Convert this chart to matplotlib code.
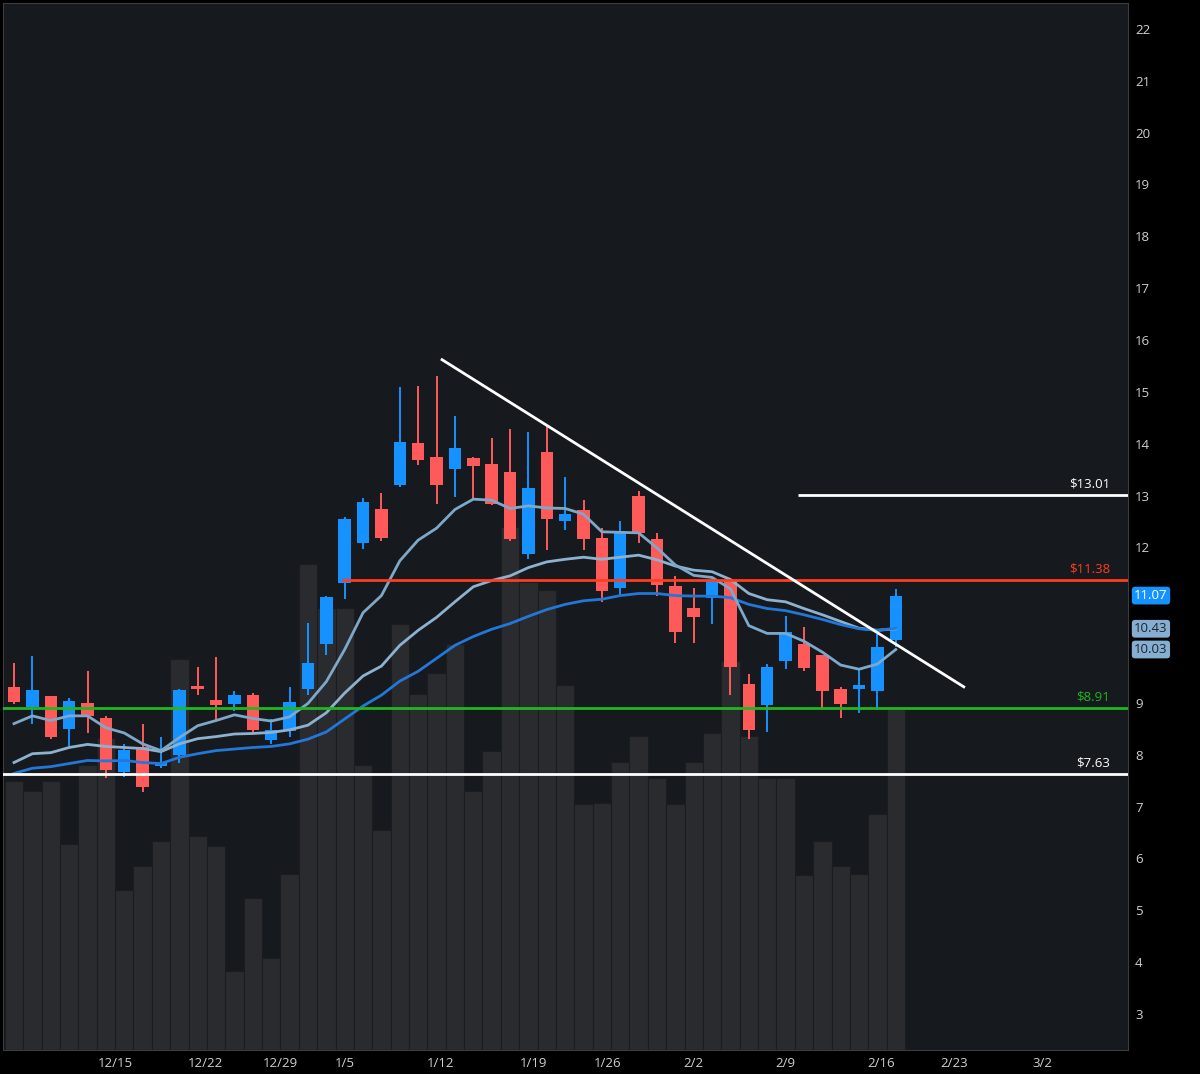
import matplotlib
matplotlib.use("Agg")
import matplotlib.pyplot as plt
import matplotlib.transforms as mtransforms
import numpy as np

plt.rcParams['font.family'] = ['Open Sans', 'DejaVu Sans']

# --- daily OHLC (trading-day index 0..48) ---
opens = [9.31, 8.93, 9.13, 8.50, 9.00, 8.70, 7.66, 8.14, 7.79, 8.00,
         9.31, 9.05, 8.98, 9.16, 8.29, 8.46, 9.27, 10.13, 11.31, 12.09,
         12.74, 13.20, 14.02, 13.74, 13.51, 13.72, 13.61, 13.45, 11.87, 13.83,
         12.51, 12.73, 12.18, 11.22, 13.00, 12.16, 11.26, 10.83, 11.03, 11.38,
         9.36, 8.96, 9.81, 10.13, 9.92, 9.27, 9.27, 9.23, 10.22]
highs = [9.77, 9.90, 9.14, 9.09, 9.61, 8.75, 8.21, 8.59, 8.35, 9.26,
         9.69, 9.88, 9.23, 9.19, 8.69, 9.31, 10.55, 11.07, 12.58, 12.96,
         13.05, 15.10, 15.12, 15.30, 14.53, 13.75, 14.10, 14.28, 14.23, 14.34,
         13.36, 12.91, 12.37, 12.51, 13.08, 12.28, 11.45, 11.22, 11.41, 11.41,
         9.55, 9.75, 10.67, 10.47, 9.92, 9.30, 9.67, 10.32, 11.20]
lows = [8.98, 8.60, 8.31, 8.16, 8.41, 7.56, 7.57, 7.29, 7.74, 7.85,
        9.16, 8.67, 8.84, 8.44, 8.21, 8.34, 9.16, 9.93, 11.00, 11.96,
        12.12, 13.16, 13.58, 12.83, 12.97, 12.93, 12.81, 12.12, 11.78, 11.95,
        12.34, 11.95, 10.95, 11.09, 12.08, 11.07, 10.15, 10.15, 10.53, 9.15,
        8.31, 8.44, 9.65, 9.61, 8.90, 8.71, 8.81, 8.86, 10.07]
closes = [9.01, 9.25, 8.34, 9.04, 8.75, 7.70, 8.10, 7.37, 7.84, 9.25,
          9.27, 8.96, 9.16, 8.48, 8.48, 9.01, 9.77, 11.05, 12.55, 12.87,
          12.19, 14.04, 13.69, 13.20, 13.92, 13.56, 12.83, 12.16, 13.15, 12.55,
          12.64, 12.16, 11.16, 12.28, 12.28, 11.27, 10.36, 10.65, 11.38, 9.69,
          8.48, 9.70, 10.37, 9.68, 9.23, 8.98, 9.34, 10.07, 11.07]

# volume, millions of shares
volume = [2.69, 2.59, 2.69, 2.06, 2.85, 3.12, 1.60, 1.84, 2.09, 3.91,
          2.14, 2.04, 0.79, 1.52, 0.92, 1.76, 4.86, 4.42, 4.42, 2.85,
          2.20, 4.26, 3.56, 3.77, 4.06, 2.59, 2.99, 5.23, 4.68, 4.60,
          3.65, 2.46, 2.47, 2.88, 3.14, 2.72, 2.46, 2.88, 3.17, 3.89,
          3.14, 2.72, 2.72, 1.75, 2.09, 1.84, 1.76, 2.36, 3.41]

# moving averages
ma_fast = [8.60, 8.75, 8.66, 8.75, 8.75, 8.52, 8.42, 8.21, 8.08, 8.33,
           8.56, 8.66, 8.77, 8.70, 8.65, 8.73, 8.99, 9.41, 10.03, 10.74,
           11.07, 11.74, 12.14, 12.37, 12.73, 12.93, 12.91, 12.75, 12.80, 12.76,
           12.75, 12.64, 12.30, 12.29, 12.28, 11.99, 11.66, 11.46, 11.42, 11.20,
           10.49, 10.34, 10.34, 10.19, 9.98, 9.73, 9.65, 9.75, 10.03]
ma_mid = [7.85, 8.02, 8.04, 8.14, 8.20, 8.16, 8.14, 8.12, 8.06, 8.21,
          8.31, 8.35, 8.40, 8.41, 8.43, 8.48, 8.57, 8.81, 9.19, 9.52,
          9.71, 10.11, 10.40, 10.65, 10.95, 11.24, 11.36, 11.45, 11.61, 11.72,
          11.77, 11.81, 11.77, 11.81, 11.85, 11.76, 11.64, 11.56, 11.53, 11.38,
          11.11, 10.99, 10.95, 10.82, 10.70, 10.57, 10.44, 10.40, 10.43]
ma_slow = [7.64, 7.74, 7.77, 7.83, 7.89, 7.88, 7.89, 7.85, 7.83, 7.95,
           8.02, 8.08, 8.11, 8.14, 8.16, 8.21, 8.30, 8.44, 8.69, 8.94,
           9.15, 9.42, 9.61, 9.86, 10.11, 10.28, 10.42, 10.53, 10.67, 10.80,
           10.90, 10.97, 11.00, 11.07, 11.11, 11.11, 11.07, 11.06, 11.06, 11.03,
           10.90, 10.82, 10.78, 10.70, 10.61, 10.51, 10.43, 10.40, 10.44]

# date ticks (position in trading days) and labels
date_pos = [5.5, 10.4, 14.5, 18.0, 23.2, 28.3, 32.3, 37.0, 42.0, 47.2, 51.2, 56.0]
date_labels = ['12/15', '12/22', '12/29', '1/5', '1/12', '1/19', '1/26',
               '2/2', '2/9', '2/16', '2/23', '3/2']
price_ticks = list(range(3, 23))

# drawn levels and trendline
levels = [13.01, 11.38, 8.91, 7.63]
level_start = [42.7, 17.85, -1, -1]
level_colors = ['#ffffff', '#ff3d1f', '#1fb81f', '#ffffff']
trend_x = [23.3, 51.7]
trend_y = [15.62, 9.31]

BG = '#16191d'
UP = '#1592ff'
DOWN = '#ff5a5a'

fig = plt.figure(figsize=(12, 10.74), dpi=100)
fig.patch.set_facecolor('black')
rect = [3 / 1200, 24 / 1074, 1125 / 1200, 1047 / 1074]
xlim = (-0.6, 60.64)

# --- volume panel (behind) ---
axv = fig.add_axes(rect)
axv.set_facecolor(BG)
x = np.arange(len(closes))
axv.bar(x, volume, width=1.0, color='#2a2b2e', edgecolor='#1a1c1f', linewidth=0.8)
axv.set_xlim(*xlim)
axv.set_ylim(0, 10.47)
axv.set_xticks([])
axv.set_yticks([])
for s in axv.spines.values():
    s.set_color('#3a3c40')

# --- price panel ---
ax = fig.add_axes(rect)
ax.patch.set_alpha(0)
ax.set_ylim(2.305, 22.50)
ax.set_xlim(*xlim)

for xi, o, h, l, c in zip(x, opens, highs, lows, closes):
    col = UP if c >= o else DOWN
    ax.vlines(xi, l, h, color=col, linewidth=1.4, zorder=3)
    ax.bar(xi, max(abs(c - o), 0.06), bottom=min(o, c), width=0.68,
           color=col, zorder=4)

ax.plot(x, ma_mid, color='#8cb2cf', linewidth=2.0, zorder=5)
ax.plot(x, ma_slow, color='#2277d8', linewidth=2.0, zorder=5)
ax.plot(x, ma_fast, color='#7ea8c9', linewidth=2.0, zorder=5)

for lv, st, col in zip(levels, level_start, level_colors):
    ax.plot([st, xlim[1]], [lv, lv], color=col, linewidth=2.0, zorder=6,
            solid_capstyle='butt')
    ax.annotate(f'${lv:.2f}', xy=(0.984, lv), xycoords=ax.get_yaxis_transform(),
                xytext=(0, 3), textcoords='offset points', ha='right', va='bottom',
                color=col, fontsize=9.5)

ax.plot(trend_x, trend_y, color='white', linewidth=2.0, zorder=6)

# right axis
ax.yaxis.tick_right()
ax.set_yticks(price_ticks)
ax.set_yticklabels([str(t) for t in price_ticks])
ax.tick_params(axis='y', length=0, pad=5, labelsize=9.5, colors='#cfcfcf')
ax.set_xticks(date_pos)
ax.set_xticklabels(date_labels)
ax.tick_params(axis='x', length=0, pad=5, labelsize=9.5, colors='#cfcfcf')
for s in ax.spines.values():
    s.set_visible(False)

# price bubbles
trans = mtransforms.blended_transform_factory(ax.transAxes, ax.transData)
bubbles = [(closes[-1], UP, 'white'), (10.43, '#86aed0', '#1c2430'),
           (ma_fast[-1], '#86aed0', '#1c2430')]
for val, fc, tc in bubbles:
    ax.text(1.0055, val, f'{val:.2f}', transform=trans, ha='left', va='center',
            fontsize=9.5, color=tc,
            bbox=dict(boxstyle='round,pad=0.18,rounding_size=0.25', fc=fc, ec='none'))

fig.savefig('out.png', dpi=100, facecolor=fig.get_facecolor())
